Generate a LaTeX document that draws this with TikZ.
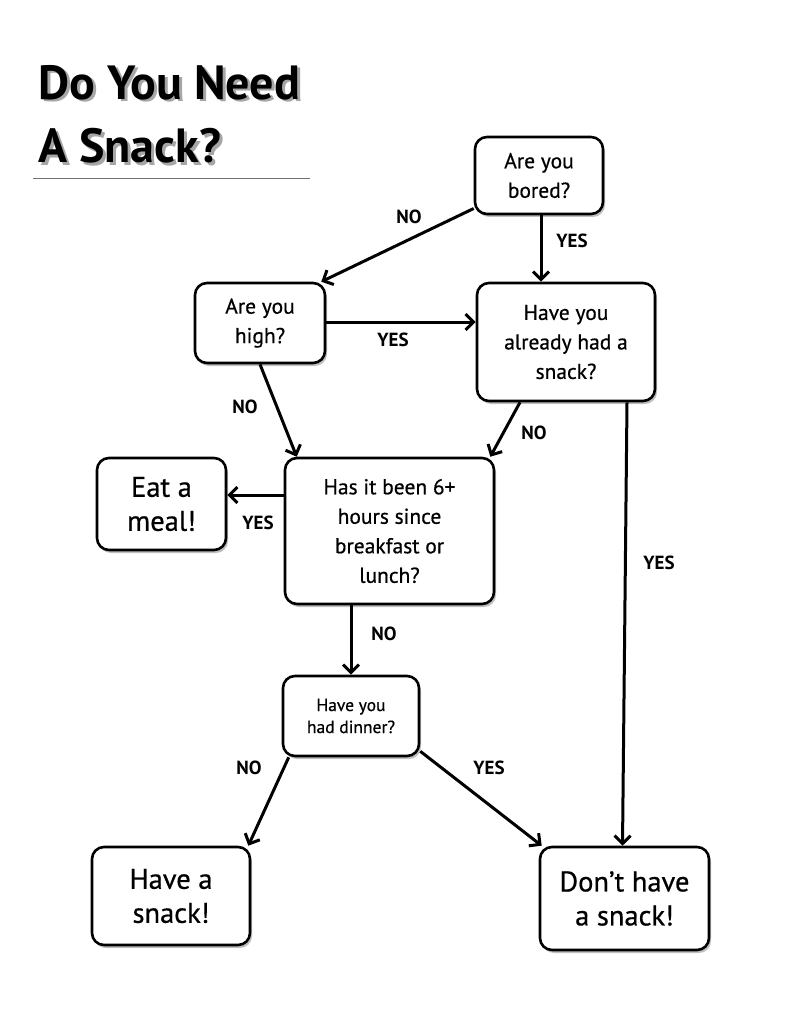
\documentclass[tikz,border=0pt]{standalone}
\usepackage{fontspec}
\setmainfont{PT Sans}
\newfontfamily\medfont[UprightFeatures={FakeBold=0.6}]{PT Sans}
\usetikzlibrary{arrows.meta,shadows}
\begin{document}
\begin{tikzpicture}[x=1pt,y=-1pt,
  box/.style={draw, rounded corners=12pt, line width=2.6pt, fill=white, align=center, inner sep=0pt,
    drop shadow={shadow xshift=2pt, shadow yshift=-3pt, fill=black, opacity=0.25}},
  txt/.style={font=\medfont\fontsize{21.5}{29.5}\selectfont},
  big/.style={font=\medfont\fontsize{28.5}{34}\selectfont},
  small/.style={font=\medfont\fontsize{17.5}{22}\selectfont},
  lbl/.style={font=\bfseries\fontsize{19}{20}\selectfont},
  arr/.style={-{Straight Barb[length=8pt,width=16pt,line width=3pt]}, line width=3pt},
  ttl/.style={font=\bfseries\fontsize{48}{56}\selectfont, anchor=west, inner sep=0pt}
]
\useasboundingbox[fill=white] (0,0) rectangle (789,1024);

% title
\newcommand{\shadowed}[1]{\rlap{\raisebox{-2.5pt}{\hspace{3pt}\textcolor{black!35}{#1}}}#1}
\node[ttl] (t1) at (38,84) {\shadowed{Do You Need}};
\node[ttl] (t2) at (38,147) {\shadowed{A Snack?}};
\draw[black!55, line width=1pt] (33,179) -- (310,179);

% boxes
\node[box, txt, minimum width=128pt, minimum height=77pt] (bored) at (539,175.5) {Are you\\bored?};
\node[box, txt, minimum width=130pt, minimum height=80pt] (high) at (260,323) {Are you\\high?};
\node[box, txt, minimum width=178pt, minimum height=118pt] (already) at (566,342) {Have you\\already had a\\snack?};
\node[box, txt, minimum width=209pt, minimum height=146pt] (six) at (389.5,531) {Has it been 6+\\hours since\\breakfast or\\lunch?};
\node[box, big, minimum width=129pt, minimum height=92pt] (eat) at (161.5,504) {Eat a\\meal!};
\node[box, small, minimum width=136pt, minimum height=80pt] (dinner) at (351,716) {Have you\\had dinner?};
\node[box, big, minimum width=158pt, minimum height=98pt] (have) at (171,896) {Have a\\snack!};
\node[box, big, minimum width=169pt, minimum height=103pt] (dont) at (624.5,898.5) {Don’t have\\a snack!};

% connectors
\draw[arr] ([yshift=-33pt]bored.west) -- ([xshift=-5pt]high.north east);
\draw[arr] ([xshift=2pt]bored.south) -- ([xshift=2pt]bored.south |- already.north);
\draw[arr] ([yshift=1pt]high.east) -- ([yshift=1pt]high.east -| already.west);
\draw[arr] (high.south) -- ([xshift=13pt]six.north west);
\draw[arr] ([xshift=-46pt]already.south) -- ([xshift=-5pt]six.north east);
\draw[arr] ([xshift=61pt]already.south) -- ([xshift=-2pt]dont.north);
\draw[arr] ([yshift=36pt]six.west) -- ([yshift=36pt]six.west -| eat.east);
\draw[arr] (dinner.north |- six.south) -- (dinner.north);
\draw[arr] ([xshift=7pt]dinner.south west) -- ([xshift=-3pt]have.north east);
\draw[arr] ([yshift=6pt]dinner.south east) -- ([xshift=3pt]dont.north west);

% labels
\node[lbl] (l1) at (409,217) {NO};
\node[lbl] (l2) at (572,241) {YES};
\node[lbl] (l3) at (393,340) {YES};
\node[lbl] (l4) at (245,407) {NO};
\node[lbl] (l5) at (534,433) {NO};
\node[lbl] (l6) at (659,563) {YES};
\node[lbl] (l7) at (258,523) {YES};
\node[lbl] (l8) at (384,634) {NO};
\node[lbl] (l9) at (249,768) {NO};
\node[lbl] (l10) at (489,768) {YES};
\end{tikzpicture}
\end{document}
